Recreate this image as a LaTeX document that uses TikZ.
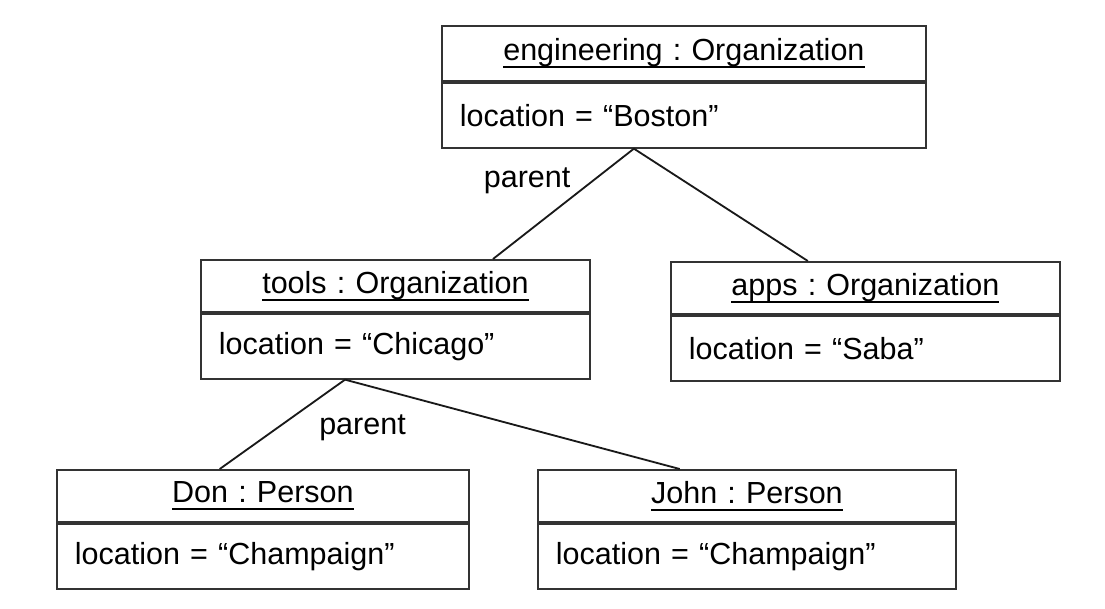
\documentclass[tikz,border=0pt]{standalone}
\usepackage{fontspec}
\setmainfont{Liberation Sans}
\usepackage{tikz}
\usetikzlibrary{positioning}

\newsavebox{\titlebox}
\newcommand{\objfont}{\fontsize{21.7}{26}\selectfont}
\newcommand{\objtitle}[1]{\sbox{\titlebox}{#1}\rlap{\rule[-0.24em]{\wd\titlebox}{1.2pt}}\usebox{\titlebox}}
\definecolor{boxline}{gray}{0.2}
\frenchspacing

\begin{document}
\begin{tikzpicture}[
    objname/.style={draw=boxline, line width=1.3pt, anchor=north west, inner xsep=0.45cm,
                    minimum height=1.3cm, align=center, font=\objfont},
    objattr/.style={draw=boxline, line width=1.3pt, inner xsep=0.45cm,
                    minimum height=1.625cm, align=left, font=\objfont},
    assoc/.style={draw=black!90, line width=1.3pt},
    role/.style={inner sep=0pt, yshift=-0.08cm, font=\objfont}]
   \fill[white] (0,0) rectangle (27.625,15.2);
   \useasboundingbox (0,0) rectangle (27.625,15.2);

   \node[objname, text width=11.2cm, minimum height=1.375cm] (engN) at (11.025,14.575) {\objtitle{engineering : Organization}};
   \node[objattr, text width=11.2cm] (engA) [below right=0pt of engN.south west] {location = “Boston”};

   \node[objname, text width=8.825cm] (toolsN) at (5,8.725) {\objtitle{tools : Organization}};
   \node[objattr, text width=8.825cm] (toolsA) [below right=0pt of toolsN.south west] {location = “Chicago”};

   \node[objname, text width=8.825cm] (appsN) at (16.75,8.675) {\objtitle{apps : Organization}};
   \node[objattr, text width=8.825cm] (appsA) [below right=0pt of appsN.south west] {location = “Saba”};

   \node[objname, text width=9.4cm] (donN) at (1.4,3.475) {\objtitle{Don : Person}};
   \node[objattr, text width=9.4cm] (donA) [below right=0pt of donN.south west] {location = “Champaign”};

   \node[objname, text width=9.55cm] (johnN) at (13.425,3.475) {\objtitle{John : Person}};
   \node[objattr, text width=9.55cm] (johnA) [below right=0pt of johnN.south west] {location = “Champaign”};

   \draw[assoc] ([xshift=-1.25cm]engA.south) -- node[role, pos=0.26, left=0.65cm] {parent} ([xshift=2.44cm]toolsN.north);
   \draw[assoc] ([xshift=-1.25cm]engA.south) -- ([xshift=-1.44cm]appsN.north);
   \draw[assoc] ([xshift=-1.26cm]toolsA.south) -- node[role, pos=0.5, right=0.9cm] {parent} ([xshift=-1.08cm]donN.north);
   \draw[assoc] ([xshift=-1.26cm]toolsA.south) -- ([xshift=-1.68cm]johnN.north);
\end{tikzpicture}
\end{document}
